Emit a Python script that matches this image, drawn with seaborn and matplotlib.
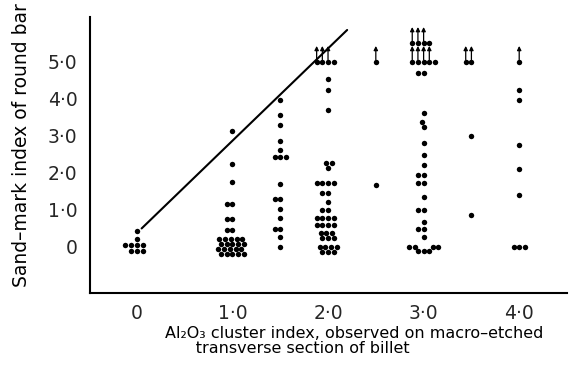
import numpy as np
import pandas as pd
import matplotlib
matplotlib.use("Agg")
import matplotlib.pyplot as plt
import seaborn as sns

# Al2O3 cluster index columns and sand-mark index readings
cluster_levels = [0.0, 1.0, 1.5, 2.0, 2.5, 3.0, 3.5, 4.0]
sand_00 = [0.43, 0.22, 0.05, 0.05, 0.05, 0.05, -0.1, -0.1, -0.1]
sand_10 = [3.13, 2.24, 1.76, 1.16, 1.16, 0.76, 0.76, 0.46, 0.46,
           0.22, 0.22, 0.22, 0.22, 0.22,
           0.08, 0.08, 0.08, 0.08, 0.08,
           -0.05, -0.05, -0.05, -0.05, -0.05,
           -0.18, -0.18, -0.18, -0.18, -0.18]
sand_15 = [3.97, 3.55, 3.3, 2.85, 2.62, 2.43, 2.43, 2.43, 1.7, 1.3, 1.3,
           1.03, 0.78, 0.49, 0.49, 0.27, 0.0]
sand_20 = [5.0, 5.0, 5.0, 5.0, 4.53, 4.24, 3.7, 2.27, 2.27, 2.13,
           1.73, 1.73, 1.73, 1.73, 1.46, 1.46, 1.22, 1.0, 1.0,
           0.78, 0.78, 0.78, 0.78, 0.59, 0.59, 0.59, 0.59,
           0.38, 0.38, 0.38, 0.24, 0.24, 0.24, 0.0, 0.0, 0.0, 0.0,
           -0.13, -0.13, -0.13]
sand_25 = [5.0, 1.68]
sand_30 = [5.51, 5.51, 5.51, 5.51, 5.0, 5.0, 5.0, 5.0, 5.0, 4.68, 4.68,
           3.62, 3.38, 3.24, 2.8, 2.49, 2.22, 1.95, 1.95, 1.73, 1.73,
           1.34, 1.0, 1.0, 0.68, 0.48, 0.48, 0.28,
           0.0, 0.0, 0.0, 0.0, -0.12, -0.12, -0.12]
sand_35 = [5.0, 5.0, 2.98, 0.87]
sand_40 = [5.0, 4.23, 3.97, 2.74, 2.1, 1.41, 0.0, 0.0, 0.0]

# points marked "or more" (upward arrows): column, row value, how many
arrow_x = [2.0, 2.5, 3.0, 3.0, 3.5, 4.0]
arrow_y = [5.0, 5.0, 5.51, 5.0, 5.0, 5.0]
arrow_n = [3, 1, 3, 4, 2, 1]

# upper bound line
line_x = [0.05, 2.2]
line_y = [0.5, 5.85]

tick_vals = [0, 1, 2, 3, 4, 5]
tick_text = ["0", "1·0", "2·0", "3·0", "4·0", "5·0"]

all_y = [sand_00, sand_10, sand_15, sand_20, sand_25, sand_30, sand_35, sand_40]
df = pd.concat([pd.DataFrame({"cluster": lvl, "sand": ys})
                for lvl, ys in zip(cluster_levels, all_y)], ignore_index=True)

sns.set_theme(style="white")
plt.rcParams["font.family"] = ["DejaVu Sans"]

fig = plt.figure(figsize=(5.72, 3.78), dpi=100)
ax = fig.add_axes([90 / 572, 85 / 378, 477 / 572, 276 / 378])

sns.swarmplot(data=df, x="cluster", y="sand", native_scale=True,
              color="black", size=3.9, linewidth=0, ax=ax)
ax.plot(line_x, line_y, color="black", lw=1.5)

ax.set_xlim(-0.49, 4.5)
ax.set_ylim(-1.24, 6.2)
ax.set_xticks(tick_vals[:5], tick_text[:5])
ax.set_yticks(tick_vals, tick_text)
ax.tick_params(direction="in", length=6, width=1, labelsize=13.5, color="black")
ax.tick_params(axis="x", pad=8)
ax.tick_params(axis="y", pad=9)
for s in ["top", "right"]:
    ax.spines[s].set_visible(False)
for s in ["left", "bottom"]:
    ax.spines[s].set_color("black")
    ax.spines[s].set_linewidth(1.5)

ax.set_ylabel("Sand–mark index of round bar", fontsize=13.5, color="black",
              va="center")
ax.yaxis.set_label_coords(-0.143, 0.535)
ax.set_xlabel("Al₂O₃ cluster index, observed on macro–etched\n"
              "      transverse section of billet",
              fontsize=11.5, color="black", multialignment="left",
              linespacing=0.95)
ax.xaxis.set_label_coords(0.553, -0.12)
ax.xaxis.label.set_va("top")

# draw once so the swarm positions are known, then add the arrows
fig.canvas.draw()
for coll in ax.collections:
    pts = coll.get_offsets()
    if len(pts) == 0:
        continue
    col = round(float(np.median(pts[:, 0])) * 2) / 2
    for ax_x, ay, n in zip(arrow_x, arrow_y, arrow_n):
        if abs(col - ax_x) > 0.01:
            continue
        row = pts[np.abs(pts[:, 1] - ay) < 0.02]
        row = row[np.argsort(row[:, 0])][:n]
        for px, py in row:
            ax.annotate("", xy=(px, py + 0.42), xytext=(px, py + 0.05),
                        arrowprops=dict(arrowstyle="-|>", color="black",
                                        lw=0.9, mutation_scale=6,
                                        shrinkA=0, shrinkB=0))

fig.savefig("out.png", dpi=100)
